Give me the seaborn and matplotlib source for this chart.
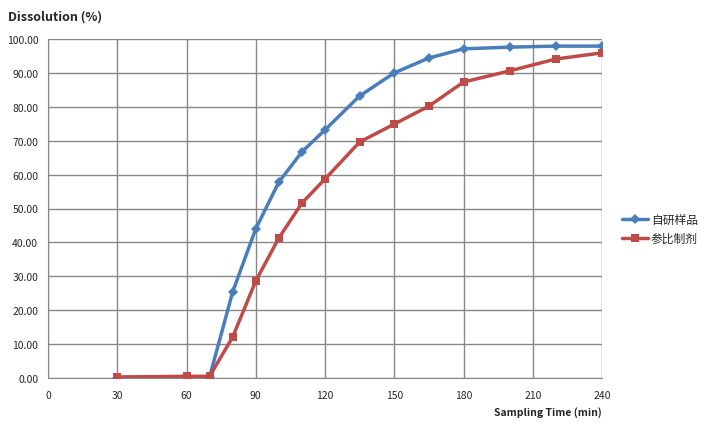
import pandas as pd
import matplotlib.pyplot as plt
import seaborn as sns
from matplotlib.ticker import FormatStrFormatter, MultipleLocator

# 데이터
times = [30, 60, 70, 80, 90, 100, 110, 120, 135, 150, 165, 180, 200, 220, 240]
self_made = [0.0, 0.2, 0.3, 25.4, 44.0, 57.8, 66.7, 73.2, 83.2, 90.0, 94.4, 97.1, 97.6, 97.9, 97.9]
reference = [0.3, 0.5, 0.5, 12.1, 28.6, 41.3, 51.6, 58.7, 69.6, 74.9, 80.2, 87.3, 90.6, 94.1, 95.9]
series_names = ['自研样品', '参比制剂']

df = pd.DataFrame({
    'time': times * 2,
    'value': self_made + reference,
    'series': [series_names[0]] * len(times) + [series_names[1]] * len(times),
})

sns.set_style('white')
plt.rcParams['font.family'] = ['Noto Sans CJK SC', 'DejaVu Sans']

fig = plt.figure(figsize=(7.04, 4.27), dpi=100)
ax = fig.add_axes([48 / 704, 48 / 427, 554 / 704, 339 / 427])

palette = {series_names[0]: '#4a7ebb', series_names[1]: '#be4b48'}
markers = {series_names[0]: 'D', series_names[1]: 's'}
sizes = {series_names[0]: 5, series_names[1]: 6}
for name in series_names:
    sub = df[df['series'] == name]
    sns.lineplot(data=sub, x='time', y='value', ax=ax, color=palette[name],
                 marker=markers[name], markersize=sizes[name], markeredgewidth=0,
                 linewidth=2.5, label=name, zorder=3)

ax.set_xlim(0, 240)
ax.set_ylim(0, 100)
ax.xaxis.set_major_locator(MultipleLocator(30))
ax.yaxis.set_major_locator(MultipleLocator(10))
ax.yaxis.set_major_formatter(FormatStrFormatter('%.2f'))
ax.grid(True, color='#878787', linewidth=1)
for s in ['top', 'right']:
    ax.spines[s].set_visible(False)
for s in ['left', 'bottom']:
    ax.spines[s].set_color('#878787')
ax.tick_params(axis='both', length=4, color='#878787', labelsize=7.5, pad=3, direction='out')
ax.tick_params(axis='x', pad=5)
ax.set_xlabel('')
ax.set_ylabel('')

fig.text(8 / 704, 1 - 17 / 427, 'Dissolution (%)', fontsize=9, fontweight='bold', va='center', ha='left')
fig.text(602 / 704, 1 - 413 / 427, 'Sampling Time (min)', fontsize=7.5, fontweight='bold', va='center', ha='right')

ax.legend(loc='center left', bbox_to_anchor=(1.037, 0.44), frameon=False,
          fontsize=8.5, handlelength=2.2, handletextpad=0.2, labelspacing=0.5,
          borderaxespad=0, borderpad=0)

plt.savefig('out.png', dpi=100)
plt.close()
